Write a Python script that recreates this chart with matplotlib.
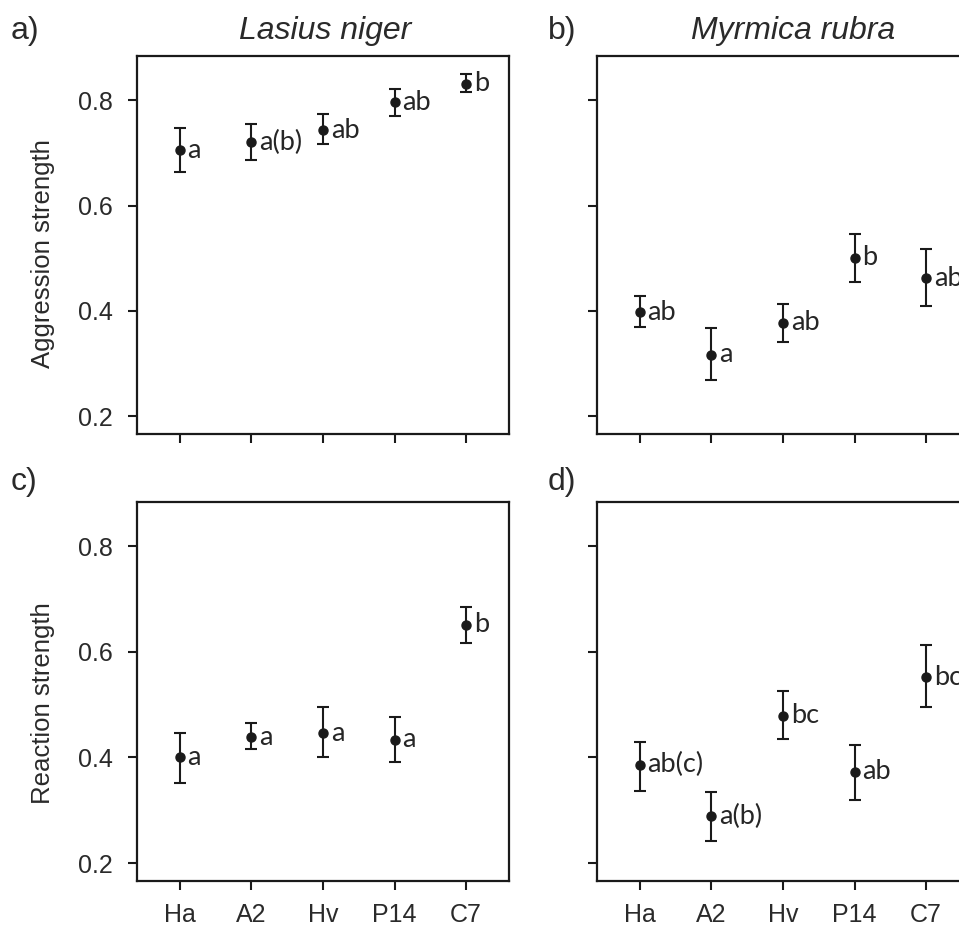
import numpy as np
import matplotlib
matplotlib.use('Agg')
import matplotlib.pyplot as plt

# treatments on the x axis
treatments = ['Ha', 'A2', 'Hv', 'P14', 'C7']

# a) Lasius niger - aggression strength (mean, lower and upper error bar)
ln_aggr = [0.705, 0.720, 0.743, 0.796, 0.831]
ln_aggr_lo = [0.663, 0.686, 0.716, 0.770, 0.815]
ln_aggr_hi = [0.747, 0.754, 0.773, 0.822, 0.849]
ln_aggr_letters = ['a', 'a(b)', 'ab', 'ab', 'b']

# b) Myrmica rubra - aggression strength
mr_aggr = [0.397, 0.317, 0.377, 0.501, 0.462]
mr_aggr_lo = [0.370, 0.268, 0.341, 0.454, 0.409]
mr_aggr_hi = [0.428, 0.367, 0.413, 0.546, 0.518]
mr_aggr_letters = ['ab', 'a', 'ab', 'b', 'ab']

# c) Lasius niger - reaction strength
ln_react = [0.400, 0.438, 0.446, 0.434, 0.651]
ln_react_lo = [0.351, 0.416, 0.401, 0.392, 0.617]
ln_react_hi = [0.446, 0.465, 0.495, 0.476, 0.686]
ln_react_letters = ['a', 'a', 'a', 'a', 'b']

# d) Myrmica rubra - reaction strength
mr_react = [0.386, 0.289, 0.479, 0.373, 0.552]
mr_react_lo = [0.336, 0.241, 0.435, 0.320, 0.496]
mr_react_hi = [0.430, 0.335, 0.526, 0.423, 0.614]
mr_react_letters = ['ab(c)', 'a(b)', 'bc', 'ab', 'bc']

W, H = 959, 926
fig = plt.figure(figsize=(W / 100, H / 100), dpi=100)
fig.patch.set_facecolor('white')

ink = '#1a1a1a'
tick_font = 'Liberation Sans'
letter_font = 'Lato'


def px_axes(x0, y0, x1, y1):
    # axes box given in pixel coordinates from the top-left corner
    return fig.add_axes([x0 / W, 1 - y1 / H, (x1 - x0) / W, (y1 - y0) / H])


def draw_panel(ax, mean, lo, hi, letters, show_ylab, show_xlab):
    x = np.arange(1, len(treatments) + 1)
    mean = np.array(mean)
    err = [mean - np.array(lo), np.array(hi) - mean]
    ax.errorbar(x, mean, yerr=err, fmt='o', color=ink, ms=6.5,
                elinewidth=1.5, capsize=4, capthick=1.5)
    for xi, yi, lab in zip(x, mean, letters):
        ax.annotate(lab, (xi, yi), xytext=(5.5, 0), textcoords='offset points',
                    ha='left', va='center', fontsize=19.5,
                    family=letter_font, color='#262626')
    ax.set_xlim(0.4, 5.6)
    ax.set_ylim(0.166, 0.884)
    ax.set_xticks(x)
    ax.set_yticks([0.2, 0.4, 0.6, 0.8])
    ax.set_xticklabels(treatments if show_xlab else [])
    ax.set_yticklabels(['0.2', '0.4', '0.6', '0.8'] if show_ylab else [])
    for sp in ax.spines.values():
        sp.set_linewidth(1.6)
        sp.set_color(ink)
    ax.tick_params(axis='both', direction='out', length=6.5, width=1.5,
                   color=ink, labelsize=18, labelcolor='#2a2a2a')
    ax.tick_params(axis='y', pad=11)
    ax.tick_params(axis='x', pad=9)
    for t in ax.get_xticklabels() + ax.get_yticklabels():
        t.set_family(tick_font)


ax_a = px_axes(137, 56, 509, 434)
ax_b = px_axes(597, 56, 969, 434)
ax_c = px_axes(137, 502, 509, 881)
ax_d = px_axes(597, 502, 969, 881)

draw_panel(ax_a, ln_aggr, ln_aggr_lo, ln_aggr_hi, ln_aggr_letters, True, False)
draw_panel(ax_b, mr_aggr, mr_aggr_lo, mr_aggr_hi, mr_aggr_letters, False, False)
draw_panel(ax_c, ln_react, ln_react_lo, ln_react_hi, ln_react_letters, True, True)
draw_panel(ax_d, mr_react, mr_react_lo, mr_react_hi, mr_react_letters, False, True)


def ftext(x, y, s, **kw):
    fig.text(x / W, 1 - y / H, s, family=tick_font, color='#2a2a2a', **kw)


# species titles
ftext(325, 39, 'Lasius niger', fontsize=23, style='italic', ha='center', va='baseline')
ftext(793, 39, 'Myrmica rubra', fontsize=23, style='italic', ha='center', va='baseline')

# panel letters
ftext(11, 39, 'a)', fontsize=23, ha='left', va='baseline')
ftext(548, 39, 'b)', fontsize=23, ha='left', va='baseline')
ftext(11, 490, 'c)', fontsize=23, ha='left', va='baseline')
ftext(548, 490, 'd)', fontsize=23, ha='left', va='baseline')

# y axis labels
ftext(43, 254, 'Aggression strength', fontsize=18.5, rotation=90, ha='center', va='center')
ftext(43, 703, 'Reaction strength', fontsize=18.5, rotation=90, ha='center', va='center')

fig.savefig('out.png', dpi=100)
